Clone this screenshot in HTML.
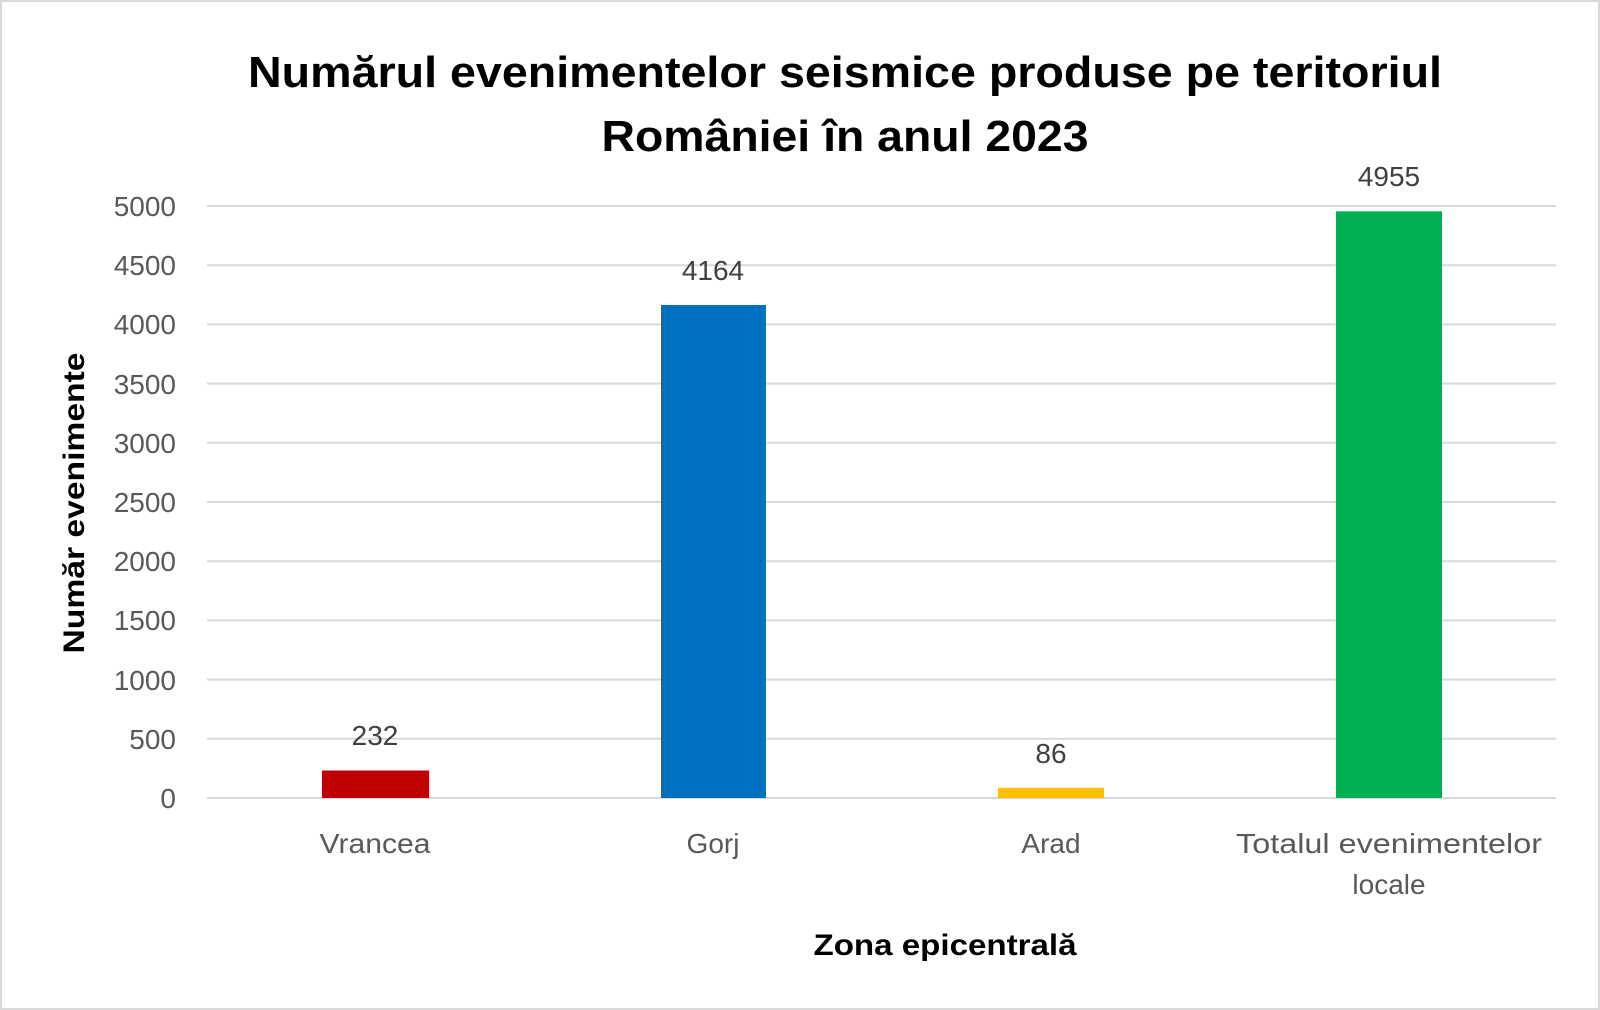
<!DOCTYPE html>
<html><head><meta charset="utf-8"><style>
html,body{margin:0;padding:0;background:#fff;}
svg{display:block;font-family:"Liberation Sans",sans-serif;}
</style></head><body>
<svg width="1600" height="1010" viewBox="0 0 1600 1010" xmlns="http://www.w3.org/2000/svg">
<rect x="1" y="1" width="1598" height="1008" fill="#fff" stroke="#d9d9d9" stroke-width="2"/>
<text x="845" y="87" text-anchor="middle" font-size="44" font-weight="bold" fill="#000" textLength="1194" lengthAdjust="spacingAndGlyphs">Numărul evenimentelor seismice produse pe teritoriul</text>
<text x="845" y="151" text-anchor="middle" font-size="44" font-weight="bold" fill="#000" textLength="487" lengthAdjust="spacingAndGlyphs">României în anul 2023</text>
<g stroke="#d9d9d9" stroke-width="2">
<line x1="207" x2="1556" y1="206" y2="206"/>
<line x1="207" x2="1556" y1="265.2" y2="265.2"/>
<line x1="207" x2="1556" y1="324.4" y2="324.4"/>
<line x1="207" x2="1556" y1="383.6" y2="383.6"/>
<line x1="207" x2="1556" y1="442.8" y2="442.8"/>
<line x1="207" x2="1556" y1="502" y2="502"/>
<line x1="207" x2="1556" y1="561.2" y2="561.2"/>
<line x1="207" x2="1556" y1="620.4" y2="620.4"/>
<line x1="207" x2="1556" y1="679.6" y2="679.6"/>
<line x1="207" x2="1556" y1="738.8" y2="738.8"/>
<line x1="207" x2="1556" y1="798" y2="798"/>
</g>
<g font-size="28" fill="#595959" text-anchor="end">
<text x="176" y="216">5000</text>
<text x="176" y="275">4500</text>
<text x="176" y="334">4000</text>
<text x="176" y="394">3500</text>
<text x="176" y="453">3000</text>
<text x="176" y="512">2500</text>
<text x="176" y="571">2000</text>
<text x="176" y="630">1500</text>
<text x="176" y="690">1000</text>
<text x="176" y="749">500</text>
<text x="176" y="808">0</text>
</g>
<rect x="322" y="770.5" width="107" height="27.5" fill="#C00000"/>
<rect x="661" y="305" width="105" height="493" fill="#0070C0"/>
<rect x="998" y="787.8" width="106" height="10.2" fill="#FFC000"/>
<rect x="1336" y="211.3" width="106" height="586.7" fill="#00B050"/>
<g font-size="28" fill="#404040" text-anchor="middle">
<text x="375" y="745">232</text>
<text x="713" y="280">4164</text>
<text x="1051" y="763">86</text>
<text x="1389" y="186">4955</text>
</g>
<g font-size="28" fill="#595959" text-anchor="middle">
<text x="375" y="853" textLength="111" lengthAdjust="spacingAndGlyphs">Vrancea</text>
<text x="713" y="853">Gorj</text>
<text x="1051" y="853">Arad</text>
<text x="1389" y="853" textLength="306" lengthAdjust="spacingAndGlyphs">Totalul evenimentelor</text>
<text x="1389" y="894">locale</text>
</g>
<text x="945" y="955" text-anchor="middle" font-size="30" font-weight="bold" fill="#000" textLength="263" lengthAdjust="spacingAndGlyphs">Zona epicentrală</text>
<text transform="translate(84,503) rotate(-90)" text-anchor="middle" font-size="30" font-weight="bold" fill="#000" textLength="301" lengthAdjust="spacingAndGlyphs">Număr evenimente</text>
</svg>
</body></html>
